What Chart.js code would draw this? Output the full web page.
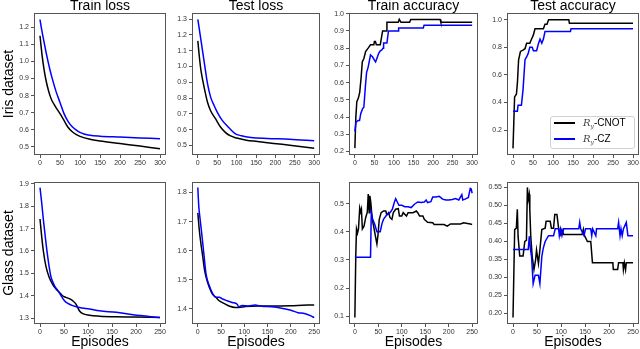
<!DOCTYPE html>
<html>
<head>
<meta charset="utf-8">
<script src="https://cdn.jsdelivr.net/npm/chart.js@4.4.0/dist/chart.umd.min.js"></script>
<style>
  body { margin: 0; background: #fff; width: 640px; height: 349px; position: relative; overflow: hidden;
         font-family: "Liberation Sans", Arial, sans-serif; }
  canvas { position: absolute; }
  .title { position: absolute; font-size: 14px; line-height: 14px; text-align: center; color: #000; white-space: nowrap; }
  .rowlab { position: absolute; width: 140px; height: 16px; font-size: 14px; line-height: 16px; text-align: center;
            transform: rotate(-90deg); white-space: nowrap; }
  .legend { position: absolute; left: 550px; top: 116px; width: 83px; height: 31px; border: 1px solid #d0d0d0;
            border-radius: 3px; background: rgba(255,255,255,0.85); }
  .item { position: absolute; left: 0; height: 12px; font-size: 10px; line-height: 12px; white-space: nowrap; }
  .sw { position: absolute; left: 3px; top: 5px; width: 21px; height: 1.5px; }
  .lab { position: absolute; left: 32px; top: 0; }
  .lab i { font-family: "DejaVu Serif", serif; color: #444; font-size: 10px; }
  .lab sub { font-family: "DejaVu Serif", serif; font-style: italic; color: #444; font-size: 6px; vertical-align: -2px; }
</style>
</head>
<body>
<div class="legend">
  <div class="item" style="top:0px"><span class="sw" style="background:#000"></span><span class="lab"><i>R</i><sub>y</sub>-CNOT</span></div>
  <div class="item" style="top:16px"><span class="sw" style="background:#0000ff"></span><span class="lab"><i>R</i><sub>y</sub>-CZ</span></div>
</div>
<script>
const COL_TITLES = ['Train loss', 'Test loss', 'Train accuracy', 'Test accuracy'];
const ROW_TITLES = ['Iris dataset', 'Glass dataset'];
const X_TITLE = 'Episodes';
const SERIES = ['Ry-CNOT', 'Ry-CZ'];

const IRIS_X_TICKS = ['0', '50', '100', '150', '200', '250', '300'];
const GLASS_X_TICKS = ['0', '50', '100', '150', '200', '250'];

// Iris - train loss
const irisTrainLossTicks = ['0.5', '0.6', '0.7', '0.8', '0.9', '1.0', '1.1', '1.2'];
const irisTrainLossCnotX = [0, 5, 10, 15, 20, 25, 30, 35, 40, 50, 60, 70, 80, 90, 100, 125, 150, 200, 250, 300];
const irisTrainLossCnot  = [1.15, 1.04, 0.955, 0.89, 0.84, 0.80, 0.77, 0.75, 0.73, 0.695, 0.655, 0.615, 0.59, 0.573, 0.562, 0.545, 0.535, 0.52, 0.505, 0.49];
const irisTrainLossCzX   = [0, 5, 10, 15, 20, 25, 30, 40, 50, 60, 70, 80, 90, 100, 110, 125, 150, 200, 250, 300];
const irisTrainLossCz    = [1.245, 1.175, 1.115, 1.055, 1.0, 0.95, 0.905, 0.825, 0.76, 0.695, 0.65, 0.62, 0.60, 0.585, 0.576, 0.568, 0.563, 0.558, 0.553, 0.548];

// Iris - test loss
const irisTestLossTicks = ['0.5', '0.6', '0.7', '0.8', '0.9', '1.0', '1.1', '1.2', '1.3'];
const irisTestLossCnotX = [0, 4, 8, 17, 25, 33, 46, 58, 71, 83, 100, 125, 154, 196, 237, 300];
const irisTestLossCnot  = [1.162, 1.06, 0.977, 0.86, 0.774, 0.72, 0.668, 0.619, 0.583, 0.562, 0.547, 0.534, 0.526, 0.513, 0.502, 0.483];
const irisTestLossCzX   = [0, 8, 17, 25, 33, 42, 50, 62, 79, 96, 112, 137, 179, 237, 300];
const irisTestLossCz    = [1.298, 1.168, 1.019, 0.891, 0.806, 0.753, 0.711, 0.662, 0.615, 0.575, 0.562, 0.551, 0.545, 0.54, 0.53];

// Iris - train accuracy
const irisTrainAccTicks = ['0.2', '0.3', '0.4', '0.5', '0.6', '0.7', '0.8', '0.9', '1.0'];
const irisTrainAccCnotX = [0, 2.5, 5, 9, 12.5, 16, 19, 23, 27.5, 34, 40, 48.5, 50, 52.6, 55, 65, 71, 80, 82, 111, 113.6, 118, 140, 143, 218, 220, 300];
const irisTrainAccCnot  = [0.22, 0.40, 0.49, 0.51, 0.545, 0.63, 0.72, 0.74, 0.78, 0.80, 0.82, 0.82, 0.838, 0.838, 0.82, 0.82, 0.90, 0.90, 0.95, 0.95, 0.967, 0.95, 0.95, 0.967, 0.967, 0.95, 0.95];
const irisTrainAccCzX   = [0, 3, 8.4, 12, 15, 20, 23, 27, 30, 34, 40, 45, 50, 53, 57, 61, 65, 69, 72, 73.5, 82, 86, 111, 112, 175, 177, 300];
const irisTrainAccCz    = [0.317, 0.37, 0.38, 0.38, 0.42, 0.45, 0.457, 0.58, 0.66, 0.69, 0.76, 0.75, 0.73, 0.72, 0.745, 0.77, 0.785, 0.79, 0.80, 0.83, 0.83, 0.90, 0.90, 0.917, 0.917, 0.933, 0.933];

// Iris - test accuracy
const irisTestAccTicks = ['0.2', '0.4', '0.6', '0.8', '1.0'];
const irisTestAccCnotX = [0, 4, 8.5, 11, 14, 18.6, 25, 30, 34, 42, 46.5, 51, 55, 76, 80, 85, 89, 139.5, 141, 300];
const irisTestAccCnot  = [0.067, 0.44, 0.46, 0.54, 0.71, 0.77, 0.78, 0.79, 0.83, 0.83, 0.86, 0.89, 0.935, 0.935, 0.967, 0.967, 1.0, 1.0, 0.975, 0.975];
const irisTestAccCzX   = [0, 11, 12.7, 21, 25, 30, 34, 38, 42, 48, 51, 59, 63, 67.6, 72, 76, 80, 143.7, 145, 300];
const irisTestAccCz    = [0.337, 0.337, 0.38, 0.38, 0.49, 0.71, 0.73, 0.756, 0.80, 0.80, 0.775, 0.775, 0.82, 0.86, 0.83, 0.86, 0.915, 0.915, 0.935, 0.935];

// Glass - train loss
const glassTrainLossTicks = ['1.3', '1.4', '1.5', '1.6', '1.7', '1.8', '1.9'];
const glassTrainLossCnotX = [0, 3.5, 7, 12.5, 19.5, 26.5, 33.4, 40, 47, 54, 61, 68, 75, 82, 89, 103, 124, 159, 194, 250];
const glassTrainLossCnot  = [1.743, 1.665, 1.60, 1.53, 1.48, 1.45, 1.43, 1.416, 1.40, 1.393, 1.387, 1.378, 1.363, 1.333, 1.32, 1.313, 1.309, 1.306, 1.305, 1.303];
const glassTrainLossCzX   = [0, 3.5, 7, 12.5, 18, 23, 30, 37, 44, 51, 58, 68, 82, 103, 124, 159, 194, 250];
const glassTrainLossCz    = [1.883, 1.816, 1.74, 1.635, 1.545, 1.484, 1.446, 1.424, 1.40, 1.378, 1.366, 1.356, 1.348, 1.341, 1.333, 1.326, 1.315, 1.303];

// Glass - test loss
const glassTestLossTicks = ['1.4', '1.5', '1.6', '1.7', '1.8'];
const glassTestLossCnotX = [0, 3.5, 7, 10.6, 14, 17.6, 24.6, 31.7, 38.7, 45.8, 56, 67, 81, 88, 102, 130, 165, 200, 236, 250];
const glassTestLossCnot  = [1.73, 1.666, 1.62, 1.58, 1.538, 1.51, 1.474, 1.45, 1.44, 1.428, 1.419, 1.41, 1.405, 1.405, 1.408, 1.41, 1.41, 1.411, 1.413, 1.413];
const glassTestLossCzX   = [0, 2, 5, 9, 14, 17.6, 24.6, 31.7, 38.7, 45.8, 53, 63, 74, 84.5, 88, 95, 109, 123, 137, 158, 180, 200, 215, 229, 243, 250];
const glassTestLossCz    = [1.817, 1.754, 1.707, 1.65, 1.573, 1.52, 1.48, 1.453, 1.44, 1.44, 1.434, 1.428, 1.422, 1.416, 1.407, 1.412, 1.41, 1.413, 1.409, 1.407, 1.402, 1.395, 1.387, 1.384, 1.376, 1.37];

// Glass - train accuracy
const glassTrainAccTicks = ['0.1', '0.2', '0.3', '0.4', '0.5'];
const glassTrainAccCnotX = [0, 2, 3.5, 5.6, 7.7, 10.4, 12.5, 14, 16, 19.5, 23, 26.5, 28.5, 30.6, 32, 34, 37, 40, 44, 47, 49.4, 52, 56, 61, 66, 68, 72, 75, 79, 82, 87, 92.6, 95, 100, 103, 110, 113.5, 124, 131, 134, 138, 145, 148, 155, 166, 169, 190, 197, 204, 225, 232, 246, 250];
const glassTrainAccCnot  = [0.095, 0.32, 0.41, 0.395, 0.41, 0.485, 0.47, 0.48, 0.41, 0.42, 0.45, 0.47, 0.534, 0.468, 0.528, 0.504, 0.444, 0.42, 0.383, 0.357, 0.39, 0.444, 0.468, 0.474, 0.474, 0.46, 0.468, 0.45, 0.444, 0.468, 0.48, 0.482, 0.456, 0.456, 0.468, 0.456, 0.468, 0.468, 0.474, 0.468, 0.456, 0.456, 0.444, 0.434, 0.432, 0.426, 0.426, 0.42, 0.428, 0.428, 0.432, 0.428, 0.426];
const glassTrainAccCzX   = [0, 33.4, 35, 38, 42.5, 47, 54, 58, 61, 68, 75, 80, 84, 87, 91, 94, 100, 106.5, 113.5, 120, 127, 134, 141, 148, 152, 155, 162, 166, 173, 180, 187, 194, 200.5, 207.5, 214.5, 221.5, 228, 230, 235, 242, 246, 248, 250];
const glassTrainAccCz    = [0.309, 0.309, 0.468, 0.444, 0.426, 0.40, 0.40, 0.43, 0.444, 0.46, 0.468, 0.48, 0.504, 0.518, 0.504, 0.494, 0.494, 0.489, 0.489, 0.486, 0.498, 0.506, 0.504, 0.506, 0.513, 0.504, 0.507, 0.524, 0.524, 0.526, 0.516, 0.513, 0.513, 0.515, 0.518, 0.513, 0.532, 0.513, 0.516, 0.522, 0.554, 0.552, 0.537];

// Glass - test accuracy
const glassTestAccTicks = ['0.20', '0.25', '0.30', '0.35', '0.40', '0.45', '0.50', '0.55'];
const glassTestAccCnotX = [0, 3.5, 7, 9, 10.6, 14, 21, 24.6, 28, 30, 31.7, 33.8, 35, 37, 40, 43.7, 47, 49, 53, 56, 60, 67, 69, 77.5, 80, 84.5, 87, 91.5, 95, 98.6, 102, 105.6, 144, 146.5, 148, 155, 162, 165.5, 208, 209, 218, 220, 229, 230, 232, 234.5, 236, 250];
const glassTestAccCnot  = [0.188, 0.432, 0.436, 0.488, 0.413, 0.359, 0.359, 0.399, 0.402, 0.549, 0.516, 0.53, 0.488, 0.413, 0.357, 0.321, 0.347, 0.375, 0.338, 0.375, 0.432, 0.436, 0.455, 0.455, 0.436, 0.436, 0.474, 0.474, 0.436, 0.418, 0.432, 0.418, 0.418, 0.432, 0.418, 0.399, 0.399, 0.34, 0.34, 0.321, 0.321, 0.34, 0.34, 0.321, 0.34, 0.321, 0.34, 0.34];
const glassTestAccCzX   = [0, 31.7, 34, 36, 38.7, 42, 46, 53, 56, 60, 63, 67, 74, 84.5, 88, 95, 96.5, 99, 102, 105.6, 137, 139, 141, 148, 151, 162, 164, 166, 172.5, 174, 218, 220, 223, 225, 227.5, 230, 236, 239.4, 250];
const glassTestAccCz    = [0.377, 0.377, 0.413, 0.38, 0.357, 0.282, 0.305, 0.305, 0.282, 0.357, 0.38, 0.399, 0.415, 0.415, 0.434, 0.434, 0.415, 0.434, 0.415, 0.434, 0.434, 0.452, 0.434, 0.415, 0.434, 0.434, 0.415, 0.434, 0.415, 0.434, 0.434, 0.452, 0.415, 0.434, 0.415, 0.434, 0.452, 0.415, 0.415];

// layout of the axes boxes (pixels)
const COL_L = [34, 192, 349, 507];
const COL_W = [132, 128, 129, 132];
const ROW_T = [13, 182];
const ROW_H = [142, 142];
const YW = 26, XH = 16, PT = 8, PR = 10;

function pts(xs, ys) { return xs.map((x, i) => ({ x: x, y: ys[i] })); }

const framePlugin = {
  id: 'frame',
  afterDraw(chart) {
    const a = chart.chartArea, ctx = chart.ctx;
    ctx.save();
    ctx.strokeStyle = '#555';
    ctx.lineWidth = 1;
    ctx.strokeRect(Math.round(a.left) + 0.5, Math.round(a.top) + 0.5,
                   Math.round(a.right - a.left) - 1, Math.round(a.bottom - a.top) - 1);
    ctx.restore();
  }
};

Chart.defaults.font.family = '"Liberation Sans", Arial, sans-serif';
Chart.defaults.font.size = 7;
Chart.defaults.color = '#333';

function panel(row, col, p) {
  const c = document.createElement('canvas');
  const w = YW + COL_W[col] + PR, h = PT + ROW_H[row] + XH;
  c.width = w; c.height = h;
  c.style.left = (COL_L[col] - YW) + 'px';
  c.style.top = (ROW_T[row] - PT) + 'px';
  c.style.width = w + 'px'; c.style.height = h + 'px';
  document.body.appendChild(c);

  const xt = p.xTicks, yt = p.yTicks;
  const ds = (label, data, color) => ({
    label, data, borderColor: color, backgroundColor: color, borderWidth: 1.5,
    pointRadius: 0, fill: false,
    cubicInterpolationMode: p.smooth ? 'monotone' : 'default', tension: 0
  });

  new Chart(c, {
    type: 'line',
    data: { datasets: [
      ds(SERIES[1], pts(p.czX, p.cz), '#0000ff'),
      ds(SERIES[0], pts(p.cnotX, p.cnot), '#000000')
    ] },
    options: {
      responsive: false, animation: false,
      layout: { padding: { left: 0, top: PT, right: PR, bottom: 0 } },
      plugins: { legend: { display: false }, tooltip: { enabled: false } },
      scales: {
        x: {
          type: 'linear', min: p.xMin, max: p.xMax,
          afterBuildTicks: s => { s.ticks = xt.map(v => ({ value: Number(v) })); },
          afterFit: s => { s.height = XH; },
          ticks: { callback: (v, i) => xt[i], padding: 1, maxRotation: 0, color: '#333' },
          grid: { drawOnChartArea: false, drawTicks: true, tickLength: 3, color: '#555' },
          border: { display: false }
        },
        y: {
          min: p.yMin, max: p.yMax,
          afterBuildTicks: s => { s.ticks = yt.map(v => ({ value: Number(v) })); },
          afterFit: s => { s.width = YW; },
          ticks: { callback: (v, i) => yt[i], padding: 2, color: '#333' },
          grid: { drawOnChartArea: false, drawTicks: true, tickLength: 3, color: '#555' },
          border: { display: false }
        }
      }
    },
    plugins: [framePlugin]
  });
}

const iris = { xTicks: IRIS_X_TICKS, xMin: -15, xMax: 315 };
const glass = { xTicks: GLASS_X_TICKS, xMin: -12.5, xMax: 262.5 };

panel(0, 0, { ...iris, smooth: true, yTicks: irisTrainLossTicks, yMin: 0.453, yMax: 1.283,
  cnotX: irisTrainLossCnotX, cnot: irisTrainLossCnot, czX: irisTrainLossCzX, cz: irisTrainLossCz });
panel(0, 1, { ...iris, smooth: true, yTicks: irisTestLossTicks, yMin: 0.44, yMax: 1.338,
  cnotX: irisTestLossCnotX, cnot: irisTestLossCnot, czX: irisTestLossCzX, cz: irisTestLossCz });
panel(0, 2, { ...iris, smooth: false, yTicks: irisTrainAccTicks, yMin: 0.18, yMax: 1.004,
  cnotX: irisTrainAccCnotX, cnot: irisTrainAccCnot, czX: irisTrainAccCzX, cz: irisTrainAccCz });
panel(0, 3, { ...iris, smooth: false, yTicks: irisTestAccTicks, yMin: 0.019, yMax: 1.049,
  cnotX: irisTestAccCnotX, cnot: irisTestAccCnot, czX: irisTestAccCzX, cz: irisTestAccCz });
panel(1, 0, { ...glass, smooth: true, yTicks: glassTrainLossTicks, yMin: 1.274, yMax: 1.908,
  cnotX: glassTrainLossCnotX, cnot: glassTrainLossCnot, czX: glassTrainLossCzX, cz: glassTrainLossCz });
panel(1, 1, { ...glass, smooth: true, yTicks: glassTestLossTicks, yMin: 1.348, yMax: 1.836,
  cnotX: glassTestLossCnotX, cnot: glassTestLossCnot, czX: glassTestLossCzX, cz: glassTestLossCz });
panel(1, 2, { ...glass, smooth: false, yTicks: glassTrainAccTicks, yMin: 0.072, yMax: 0.577,
  cnotX: glassTrainAccCnotX, cnot: glassTrainAccCnot, czX: glassTrainAccCzX, cz: glassTrainAccCz });
panel(1, 3, { ...glass, smooth: false, yTicks: glassTestAccTicks, yMin: 0.17, yMax: 0.564,
  cnotX: glassTestAccCnotX, cnot: glassTestAccCnot, czX: glassTestAccCzX, cz: glassTestAccCz });

// titles and axis labels
COL_TITLES.forEach((t, i) => {
  const d = document.createElement('div');
  d.className = 'title'; d.textContent = t;
  d.style.left = COL_L[i] + 'px'; d.style.width = COL_W[i] + 'px'; d.style.top = '-2px';
  document.body.appendChild(d);
  const e = document.createElement('div');
  e.className = 'title'; e.textContent = X_TITLE;
  e.style.left = COL_L[i] + 'px'; e.style.width = COL_W[i] + 'px'; e.style.top = '334px';
  document.body.appendChild(e);
});
ROW_TITLES.forEach((t, i) => {
  const d = document.createElement('div');
  d.className = 'rowlab'; d.textContent = t;
  d.style.left = (8 - 70) + 'px';
  d.style.top = (ROW_T[i] + ROW_H[i] / 2 - 8) + 'px';
  document.body.appendChild(d);
});
// keep legend above canvases
document.body.appendChild(document.querySelector('.legend'));
</script>
</body>
</html>
